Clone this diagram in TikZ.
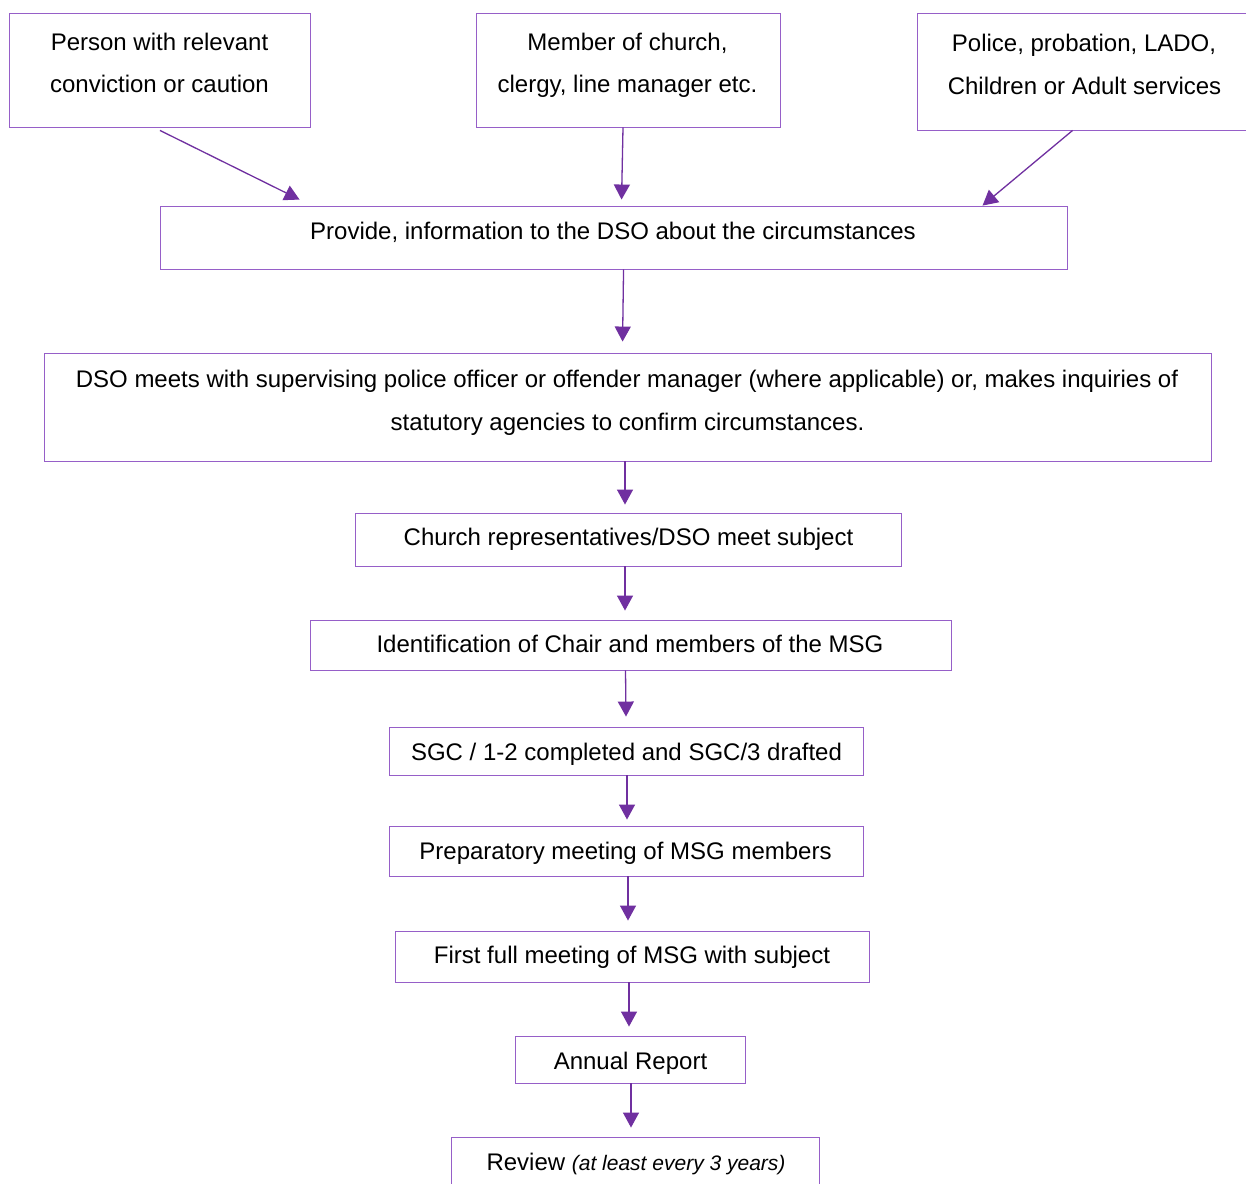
\documentclass[tikz,border=0pt]{standalone}
\usepackage{fontspec}
\setmainfont{Liberation Sans}
\usetikzlibrary{arrows.meta,calc}
\definecolor{boxc}{RGB}{150,95,200}
\definecolor{arrc}{RGB}{112,48,160}
\begin{document}
\begin{tikzpicture}[x=1pt,y=-1pt,
  box/.style={draw=boxc,line width=0.9pt,rectangle,inner sep=0pt},
  txt/.style={anchor=base,inner sep=0pt,font=\fontsize{24}{42}\selectfont},
  arr/.style={draw=arrc,line width=1.3pt,-{Triangle[width=16pt,length=15pt]}}]
\clip (0,0) rectangle (1246,1183);
\fill[white] (0,0) rectangle (1246,1183);
% boxes
\node[box,minimum width=301pt,minimum height=114pt] (p1) at (159.5,70) {};
\node[box,minimum width=304pt,minimum height=114pt] (p2) at (628,70) {};
\node[box,minimum width=334pt,minimum height=117pt] (p3) at (1084,71.5) {};
\node[box,minimum width=907pt,minimum height=63pt] (prov) at (613.5,237.5) {};
\node[box,minimum width=1167pt,minimum height=108pt] (dso) at (627.5,407) {};
\node[box,minimum width=546pt,minimum height=53pt] (church) at (628,539.5) {};
\node[box,minimum width=641pt,minimum height=50pt] (ident) at (630.5,645) {};
\node[box,minimum width=474pt,minimum height=48pt] (sgc) at (626,751) {};
\node[box,minimum width=474pt,minimum height=50pt] (prep) at (626,851) {};
\node[box,minimum width=474pt,minimum height=51pt] (first) at (632,956.5) {};
\node[box,minimum width=230pt,minimum height=47pt] (annual) at (630,1059.5) {};
\node[box,minimum width=368pt,minimum height=58pt] (review) at (635,1166) {};
% texts
\node[txt] (p1a) at (159.5,50.5) {Person with relevant};
\node[txt] (p1b) at (159.5,92.5) {conviction or caution};
\node[txt] (p2a) at (627.5,50.5) {Member of church,};
\node[txt] (p2b) at (627.5,92.5) {clergy, line manager etc.};
\node[txt] (p3a) at (1084,51.5) {Police, probation, LADO,};
\node[txt] (p3b) at (1084.5,94.5) {Children or Adult services};
\node[txt] (provt) at (613,239.5) {Provide, information to the DSO about the circumstances};
\node[txt] (dsoa) at (627,387.5) {DSO meets with supervising police officer or offender manager (where applicable) or, makes inquiries of};
\node[txt] (dsob) at (627.5,430.5) {statutory agencies to confirm circumstances.};
\node[txt] (churcht) at (628.5,545.5) {Church representatives/DSO meet subject};
\node[txt] (identt) at (630,652.5) {Identification of Chair and members of the MSG};
\node[txt] (sgct) at (626.5,760.5) {SGC / 1-2 completed and SGC/3 drafted};
\node[txt] (prept) at (625.5,859.5) {Preparatory meeting of MSG members};
\node[txt] (firstt) at (632,963.5) {First full meeting of MSG with subject};
\node[txt] (annualt) at (630.5,1069.5) {Annual Report};
\node[txt] (reviewt) at (636,1170.5) {Review \fontsize{21}{24}\selectfont\itshape(at least every 3 years)};
% arrows
\draw[arr] ($(p1.south)+(0.5,3)$) -- ($(prov.north west)+(140,-6)$);
\draw[arr] ($(p2.south)+(-5,0)$) -- ($(prov.north west)+(462,-6)$);
\draw[arr] ($(p3.south west)+(156,0)$) -- ($(prov.north west)+(823,0)$);
\draw[arr] ($(prov.south west)+(464,0)$) -- ($(dso.north west)+(579,-11)$);
\draw[arr] ($(dso.south)+(-2.5,0)$) -- ($(church.north)+(-3,-8)$);
\draw[arr] ($(church.south)+(-3,0)$) -- ($(ident.north)+(-5.5,-9)$);
\draw[arr] ($(ident.south)+(-5,0)$) -- ($(sgc.north)+(0,-10)$);
\draw[arr] ($(sgc.south)+(1,0)$) -- ($(prep.north)+(1,-6)$);
\draw[arr] ($(prep.south)+(2,0)$) -- ($(first.north)+(-4,-10)$);
\draw[arr] ($(first.south)+(-3,0)$) -- ($(annual.north)+(-1,-9)$);
\draw[arr] ($(annual.south)+(1,0)$) -- ($(review.north)+(-4,-9)$);
\end{tikzpicture}
\end{document}
